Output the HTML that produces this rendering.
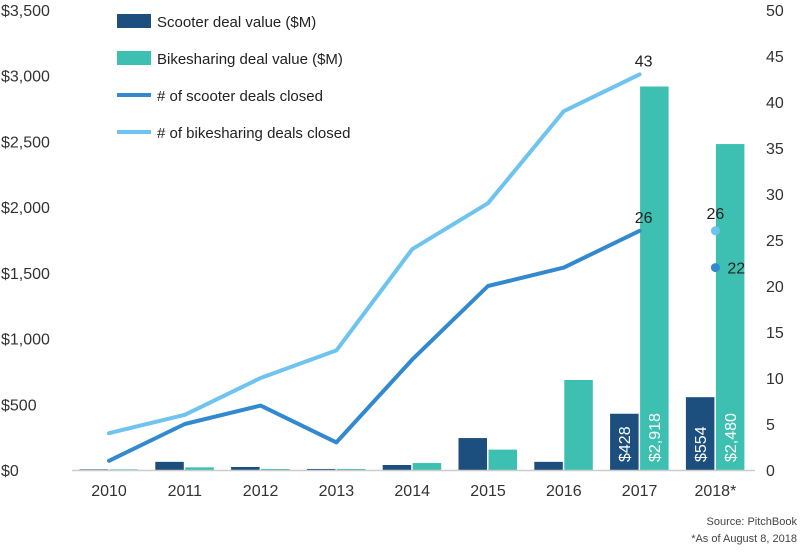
<!DOCTYPE html>
<html><head><meta charset="utf-8"><style>
body{margin:0;background:#fff;font-family:"Liberation Sans",sans-serif}
svg text{font-family:"Liberation Sans",sans-serif}
</style></head><body>
<svg id="c" width="800" height="547"></svg>
<script>
const categories=["2010","2011","2012","2013","2014","2015","2016","2017","2018*"];
const scooterValue=[5,62,23,8,38,243,62,428,554];
const bikeValue=[5,20,8,8,53,155,685,2918,2480];
const scooterDeals=[1,5,7,3,12,20,22,26];
const bikeDeals=[4,6,10,13,24,29,39,43];
const scooterDeals2018=22, bikeDeals2018=26;
const leftTicks=[0,500,1000,1500,2000,2500,3000,3500];
const leftTickLabels=["$0","$500","$1,000","$1,500","$2,000","$2,500","$3,000","$3,500"];
const rightTicks=[0,5,10,15,20,25,30,35,40,45,50];

const NS="http://www.w3.org/2000/svg";
const svg=document.getElementById('c');
const y0=470,y1=10;
const yL=v=>y0-(y0-y1)*v/3500;
const yR=v=>y0-(y0-y1)*v/50;
const xC=i=>109+i*75.8;
function el(t,a,txt){const e=document.createElementNS(NS,t);for(const k in a)e.setAttribute(k,a[k]);if(txt!=null)e.textContent=txt;svg.appendChild(e);return e;}
const C1="#1c4f7e",C2="#3dbfb1",L1="#3389cf",L2="#6ec4ef";

leftTicks.forEach((v,i)=>{const t=el('text',{x:1,y:yL(v)+6,'font-size':16,fill:'#333'},leftTickLabels[i]);
});
rightTicks.forEach(v=>{const t=el('text',{x:766,y:yR(v)+6,'font-size':16,fill:'#333'},String(v));
});

categories.forEach((c,i)=>{
 const x=xC(i);
 const b1=el('rect',{x:x-29.5,y:yL(scooterValue[i]),width:28.5,height:y0-yL(scooterValue[i]),fill:C1});
 
 const b2=el('rect',{x:x+0.5,y:yL(bikeValue[i]),width:28.5,height:y0-yL(bikeValue[i]),fill:C2});
 
 const t=el('text',{x:x,y:496,'font-size':16,fill:'#333','text-anchor':'middle'},c);
 
});
const ax=el('line',{x1:72,x2:755,y1:y0+0.5,y2:y0+0.5,stroke:'#ccc','stroke-width':1.5});


[7,8].forEach(i=>{
 const x=xC(i);
 [[x-15.5,scooterValue[i]],[x+14.5,bikeValue[i]]].forEach(([cx,v])=>{
  const t=el('text',{transform:`translate(${cx+6},${y0-8}) rotate(-90)`,'font-size':16,fill:'#fff'},'$'+v.toLocaleString('en-US'));
  
 });
});

function line(arr,col,name){const p=el('polyline',{points:arr.map((v,i)=>xC(i)+','+yR(v)).join(' '),fill:'none',stroke:col,'stroke-width':4,'stroke-linecap':'round','stroke-linejoin':'round'});
}
line(bikeDeals,L2,'bike-deals-line');line(scooterDeals,L1,'scooter-deals-line');
const p1=el('circle',{cx:xC(8),cy:yR(bikeDeals2018),r:4.5,fill:L2});
const p2=el('circle',{cx:xC(8),cy:yR(scooterDeals2018),r:4.5,fill:L1});
[[xC(7)+4,yR(bikeDeals[7])-8,bikeDeals[7],'middle'],[xC(7)+4,yR(scooterDeals[7])-8,scooterDeals[7],'middle'],[xC(8),yR(bikeDeals2018)-12,bikeDeals2018,'middle'],[xC(8)+12,yR(scooterDeals2018)+6,scooterDeals2018,'start']].forEach(([x,y,v,a])=>{
 const t=el('text',{x:x,y:y,'font-size':16,fill:'#222','text-anchor':a},String(v));
 
});

const leg=[["rect",C1,"Scooter deal value ($M)"],["rect",C2,"Bikesharing deal value ($M)"],["line",L1,"# of scooter deals closed"],["line",L2,"# of bikesharing deals closed"]];
leg.forEach((d,i)=>{const y=21+i*37;
 const m=d[0]==="rect"?el('rect',{x:117,y:y-7,width:34,height:14,fill:d[1]}):el('line',{x1:117,x2:151,y1:y,y2:y,stroke:d[1],'stroke-width':4});
 
 const t=el('text',{x:157,y:y+6,'font-size':15,fill:'#222'},d[2]);
 
});
const s1=el('text',{x:797,y:525,'font-size':11,fill:'#444','text-anchor':'end'},'Source: PitchBook');

const s2=el('text',{x:797,y:542,'font-size':11,fill:'#444','text-anchor':'end'},'*As of August 8, 2018');

</script>
</body></html>
